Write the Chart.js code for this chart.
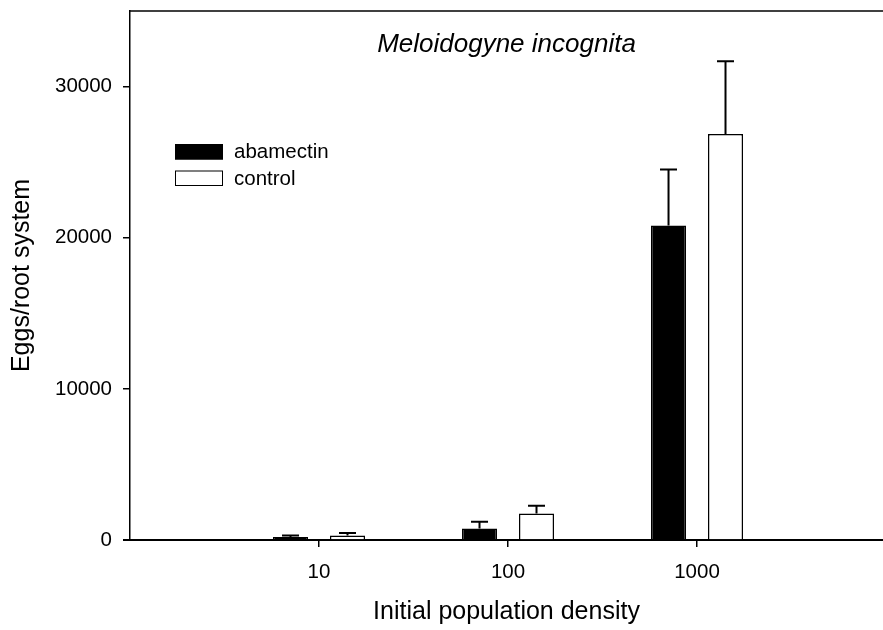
<!DOCTYPE html>
<html>
<head>
<meta charset="utf-8">
<script src="https://cdn.jsdelivr.net/npm/chart.js@4/dist/chart.umd.min.js"></script>
<style>
  html, body { margin: 0; padding: 0; background: #fff; }
  #wrap { width: 883px; height: 630px; position: relative; }
</style>
</head>
<body>
<div id="wrap"><canvas id="eggChart"></canvas></div>
<script>
// initial population densities and egg counts per root system
const densities = ['10', '100', '1000'];
const abamectin = [200, 755, 20800];
const abamectinErr = [100, 455, 3720];
const control = [290, 1750, 26870];
const controlErr = [180, 520, 4810];
const yTicks = [0, 10000, 20000, 30000];

const FONT = '"Liberation Sans", Arial, sans-serif';

function toPoints(values) {
  return values.map((v, i) => ({ x: i + 1, y: v }));
}

// upward error bars, title, legend box and frame lines
const extras = {
  id: 'extras',
  afterDatasetsDraw(chart) {
    const ctx = chart.ctx;
    const yScale = chart.scales.y;
    const area = chart.chartArea;
    const errs = [abamectinErr, controlErr];

    ctx.save();
    ctx.strokeStyle = '#000';
    ctx.lineWidth = 2;
    chart.data.datasets.forEach((ds, di) => {
      const meta = chart.getDatasetMeta(di);
      meta.data.forEach((bar, i) => {
        const top = yScale.getPixelForValue(ds.data[i].y + errs[di][i]);
        ctx.beginPath();
        ctx.moveTo(bar.x, bar.y);
        ctx.lineTo(bar.x, top);
        ctx.moveTo(bar.x - 8.5, top);
        ctx.lineTo(bar.x + 8.5, top);
        ctx.stroke();
      });
    });

    // top frame and the stub of the x axis left of the y axis
    ctx.lineWidth = 1.5;
    ctx.beginPath();
    ctx.moveTo(area.left, area.top);
    ctx.lineTo(area.right, area.top);
    ctx.stroke();
    ctx.lineWidth = 2;
    ctx.beginPath();
    ctx.moveTo(area.left - 7, area.bottom);
    ctx.lineTo(area.left, area.bottom);
    ctx.stroke();

    // species name
    ctx.fillStyle = '#000';
    ctx.font = 'italic 26px ' + FONT;
    ctx.textAlign = 'center';
    ctx.textBaseline = 'alphabetic';
    ctx.fillText('Meloidogyne incognita', (area.left + area.right) / 2, 51.5);

    // legend
    ctx.font = '20.5px ' + FONT;
    ctx.textAlign = 'left';
    ctx.textBaseline = 'middle';
    chart.data.datasets.forEach((ds, di) => {
      const y = 144 + di * 26.5;
      ctx.fillStyle = ds.backgroundColor;
      ctx.fillRect(175, y, 48, 15.5);
      ctx.lineWidth = 1;
      ctx.strokeStyle = '#000';
      ctx.strokeRect(175.5, y + 0.5, 47, 14.5);
      ctx.fillStyle = '#000';
      ctx.fillText(ds.label, 234, y + 8.5);
    });
    ctx.restore();
  }
};

new Chart(document.getElementById('eggChart'), {
  type: 'bar',
  data: {
    datasets: [
      {
        label: 'abamectin',
        data: toPoints(abamectin),
        backgroundColor: '#000',
        borderColor: '#000',
        borderWidth: 1.5
      },
      {
        label: 'control',
        data: toPoints(control),
        backgroundColor: '#fff',
        borderColor: '#000',
        borderWidth: 1.5
      }
    ]
  },
  options: {
    responsive: true,
    maintainAspectRatio: false,
    animation: false,
    layout: { padding: { top: 11, right: 0, left: 0, bottom: 0 } },
    datasets: {
      bar: { categoryPercentage: 0.603, barPercentage: 0.615 }
    },
    plugins: {
      legend: { display: false },
      tooltip: { enabled: false }
    },
    scales: {
      x: {
        type: 'linear',
        offset: false,
        min: 0,
        max: 3.984,
        afterBuildTicks: scale => {
          scale.ticks = densities.map((d, i) => ({ value: i + 1 }));
        },
        afterFit: scale => {
          scale.height = 90;
          scale.paddingLeft = 0;
          scale.paddingRight = 0;
        },
        ticks: {
          color: '#000',
          font: { family: FONT, size: 20.5 },
          padding: 13,
          maxRotation: 0,
          callback: v => densities[v - 1]
        },
        grid: {
          offset: false,
          drawOnChartArea: false,
          drawTicks: true,
          tickLength: 7,
          color: '#000',
          lineWidth: 1.5
        },
        border: { display: true, color: '#000', width: 2 },
        title: {
          display: true,
          text: 'Initial population density',
          color: '#000',
          font: { family: FONT, size: 25 },
          padding: { top: 0, bottom: 3 }
        }
      },
      y: {
        min: 0,
        max: 35000,
        afterBuildTicks: scale => {
          scale.ticks = yTicks.map(v => ({ value: v }));
        },
        afterFit: scale => {
          scale.width = 130;
          scale.paddingTop = 0;
          scale.paddingBottom = 0;
        },
        ticks: {
          color: '#000',
          font: { family: FONT, size: 20.5 },
          padding: 11,
          callback: v => String(v)
        },
        grid: {
          drawOnChartArea: false,
          drawTicks: true,
          tickLength: 7,
          color: '#000',
          lineWidth: 1.5
        },
        border: { display: true, color: '#000', width: 1.5 },
        title: {
          display: true,
          text: 'Eggs/root system',
          color: '#000',
          font: { family: FONT, size: 25 },
          padding: { top: 7, bottom: 0 }
        }
      }
    }
  },
  plugins: [extras]
});
</script>
</body>
</html>
